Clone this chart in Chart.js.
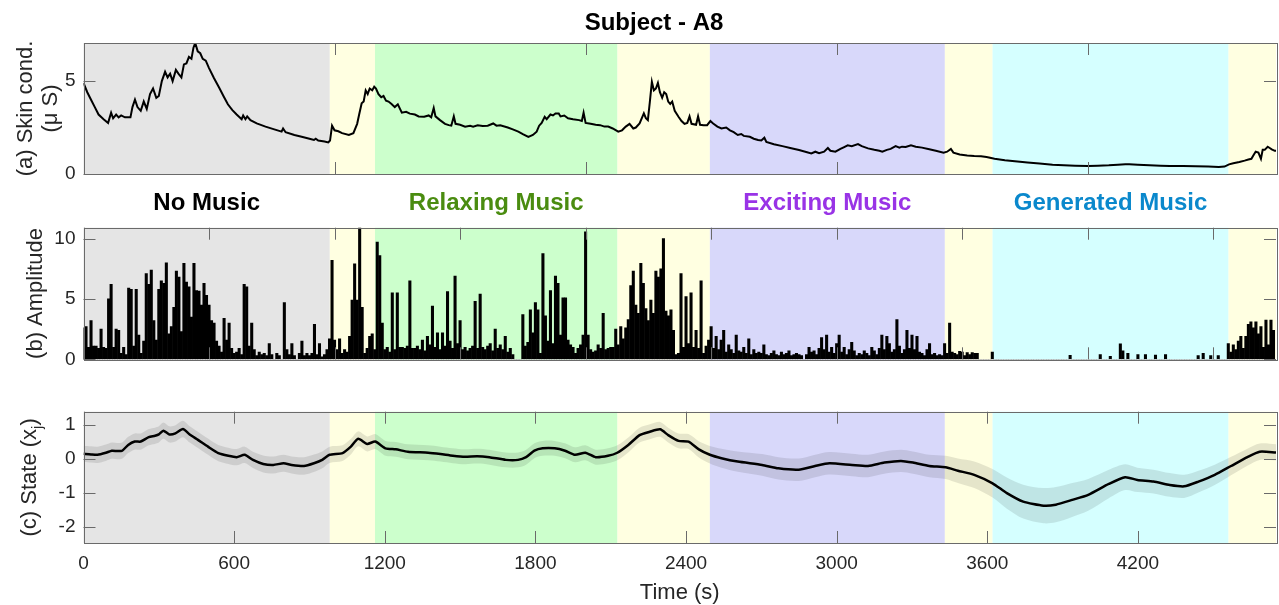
<!DOCTYPE html>
<html>
<head>
<meta charset="utf-8">
<title>Subject - A8</title>
<script src="https://cdn.jsdelivr.net/npm/chart.js@4.4.1/dist/chart.umd.min.js"></script>
<style>
  html, body { margin: 0; padding: 0; background: #fff; }
  #fig { position: relative; width: 1279px; height: 605px; overflow: hidden; }
  #fig canvas { position: absolute; left: 0; }
</style>
</head>
<body>
<div id="fig">
  <canvas id="skinChart" width="1279" height="180" style="top:0px"></canvas>
  <canvas id="ampChart" width="1279" height="200" style="top:180px"></canvas>
  <canvas id="stateChart" width="1279" height="225" style="top:380px"></canvas>
</div>
<script>
// ---- session phases (seconds) ----
const phaseEdges = [0, 981, 1161, 2127, 2495, 3431, 3621, 4561, 4750];
const phaseKind = ['none', 'rest', 'relax', 'rest', 'excite', 'rest', 'generated', 'rest'];
const phaseNames = ['No Music', 'Relaxing Music', 'Exciting Music', 'Generated Music'];
const phaseNameKind = ['none', 'relax', 'excite', 'generated'];

// ---- (a) skin conductance, microsiemens ----
const skinTimes = [
  0, 15, 30, 45, 60, 80, 98, 110, 118, 130, 140, 150, 165, 187, 195, 205, 215, 228, 240, 252,
  265, 277, 290, 300, 312, 325, 335, 345, 355, 368, 378, 390, 400, 410, 420, 430, 438, 445, 455, 465,
  475, 487, 500, 520, 540, 559, 575, 593, 610, 630, 636, 645, 652, 665, 690, 725, 760, 789, 795, 805,
  840, 869, 900, 918, 925, 935, 960, 975, 982, 990, 1000, 1015, 1030, 1057, 1075, 1090, 1098, 1108, 1116, 1124,
  1132, 1140, 1150, 1158, 1165, 1175, 1186, 1195, 1205, 1215, 1227, 1240, 1252, 1268, 1285, 1300, 1320, 1335, 1357, 1375,
  1385, 1395, 1402, 1420, 1440, 1455, 1465, 1475, 1482, 1500, 1520, 1540, 1552, 1570, 1590, 1610, 1632, 1645, 1660, 1690,
  1710, 1732, 1750, 1772, 1790, 1805, 1815, 1825, 1837, 1845, 1860, 1870, 1880, 1893, 1900, 1915, 1930, 1950, 1974, 1985,
  1992, 2000, 2020, 2040, 2058, 2075, 2090, 2108, 2130, 2145, 2160, 2175, 2190, 2200, 2215, 2232, 2240, 2248, 2256, 2264,
  2272, 2280, 2288, 2296, 2305, 2313, 2321, 2329, 2337, 2345, 2355, 2370, 2382, 2394, 2405, 2414, 2422, 2440, 2448, 2456,
  2470, 2484, 2497, 2508, 2525, 2541, 2560, 2575, 2590, 2606, 2620, 2630, 2654, 2670, 2687, 2700, 2712, 2720, 2750, 2784,
  2815, 2850, 2875, 2899, 2915, 2930, 2950, 2965, 2975, 2995, 3015, 3030, 3044, 3060, 3085, 3100, 3125, 3150, 3170, 3182,
  3200, 3215, 3235, 3250, 3260, 3275, 3296, 3315, 3340, 3369, 3395, 3426, 3440, 3455, 3465, 3490, 3520, 3548, 3575, 3597,
  3629, 3670, 3710, 3760, 3808, 3860, 3905, 3950, 4002, 4040, 4084, 4120, 4150, 4165, 4200, 4246, 4290, 4327, 4380, 4430,
  4480, 4522, 4545, 4563, 4580, 4604, 4625, 4640, 4652, 4662, 4669, 4680, 4690, 4697, 4705, 4717, 4725, 4733, 4745, 4750
];
const skinValues = [
  4.9, 4.4, 4.0, 3.6, 3.2, 2.95, 2.75, 3.3, 3.0, 3.2, 3.05, 3.15, 3.05, 3.05, 3.6, 4.0, 3.6, 3.4, 3.9, 3.5,
  4.3, 4.6, 4.1, 4.2, 5.0, 5.5, 5.2, 5.4, 5.0, 5.6, 5.4, 5.2, 5.9, 5.95, 6.3, 6.2, 6.8, 7.05, 6.6, 6.5,
  6.2, 6.1, 5.7, 5.15, 4.65, 4.16, 3.75, 3.44, 3.2, 2.95, 3.15, 2.95, 3.1, 2.9, 2.72, 2.55, 2.4, 2.28, 2.45, 2.25,
  2.1, 2.0, 1.9, 1.83, 1.9, 1.8, 1.75, 1.7, 1.8, 2.6, 2.35, 2.3, 2.2, 2.1, 2.2, 2.7, 3.2, 3.8, 3.9, 4.5,
  4.3, 4.6, 4.5, 4.7, 4.6, 4.3, 4.13, 4.2, 3.95, 3.9, 3.77, 3.6, 3.75, 3.3, 3.35, 3.25, 3.2, 3.1, 3.08, 3.15,
  3.05, 3.55, 3.1, 2.9, 2.7, 2.63, 2.6, 3.1, 2.7, 2.65, 2.55, 2.6, 2.55, 2.62, 2.58, 2.6, 2.72, 2.6, 2.62, 2.5,
  2.4, 2.28, 2.15, 2.0, 2.1, 2.28, 2.6, 2.75, 3.08, 2.95, 3.2, 3.15, 3.26, 3.26, 3.1, 3.15, 3.0, 2.95, 2.9, 2.85,
  3.3, 2.75, 2.7, 2.65, 2.63, 2.55, 2.55, 2.45, 2.28, 2.35, 2.55, 2.7, 2.45, 2.5, 2.72, 3.26, 3.0, 2.9, 3.9, 4.96,
  4.5, 4.6, 4.9, 4.4, 4.1, 4.4, 4.3, 3.9, 3.77, 3.9, 3.4, 3.08, 2.85, 2.7, 2.75, 3.1, 2.7, 2.65, 3.1, 2.65,
  2.63, 2.63, 2.85, 2.72, 2.55, 2.45, 2.5, 2.35, 2.25, 2.1, 2.15, 2.05, 2.0, 1.9, 1.83, 1.8, 1.95, 1.72, 1.6, 1.5,
  1.4, 1.29, 1.2, 1.11, 1.2, 1.12, 1.2, 1.4, 1.25, 1.2, 1.35, 1.45, 1.54, 1.5, 1.61, 1.5, 1.38, 1.3, 1.25, 1.2,
  1.3, 1.35, 1.5, 1.42, 1.47, 1.45, 1.54, 1.47, 1.42, 1.33, 1.25, 1.15, 1.2, 1.35, 1.15, 1.05, 1.0, 0.97, 0.95, 0.91,
  0.82, 0.74, 0.68, 0.62, 0.56, 0.5, 0.47, 0.45, 0.43, 0.45, 0.47, 0.5, 0.53, 0.52, 0.5, 0.47, 0.45, 0.43, 0.43, 0.42,
  0.4, 0.38, 0.4, 0.52, 0.58, 0.65, 0.72, 0.78, 0.82, 1.05, 1.2, 1.15, 0.82, 1.3, 1.3, 1.47, 1.4, 1.33, 1.25, 1.25
];

// ---- (b) response amplitude, one value per 10 s bin ----
const ampStep = 10;
const ampValues = [
  2.6, 2.7, 1.0, 3.2, 1.1, 1.1, 0.9, 2.5, 1.0, 0.9,
  5.0, 6.2, 1.0, 2.5, 2.4, 0.5, 1.0, 0.4, 5.9, 5.8,
  1.1, 5.8, 2.0, 0.5, 1.5, 7.1, 6.2, 7.4, 3.2, 1.6,
  5.8, 6.5, 6.3, 8.0, 2.1, 2.7, 4.3, 7.3, 6.8, 2.3,
  7.95, 6.4, 6.0, 3.5, 7.95, 5.7, 5.65, 4.5, 6.3, 5.3,
  4.5, 3.2, 3.0, 1.5, 1.1, 0.6, 3.4, 1.6, 3.0, 0.9,
  0.5, 0.6, 0.9, 0.4, 6.2, 6.0, 1.1, 3.0, 0.8, 0.3,
  0.6, 0.4, 0.5, 0.3, 1.3, 0.4, 0, 0.5, 0.3, 0,
  4.7, 0.8, 0.4, 1.3, 0.3, 0, 0.5, 1.5, 0.3, 0.5,
  0.3, 0.5, 2.9, 0.4, 1.3, 0.2, 0.4, 0.8, 1.7, 8.2,
  1.6, 0.8, 1.7, 0.5, 0.8, 0.6, 1.9, 4.9, 7.9, 4.9,
  10.95, 4.3, 0.5, 0.9, 1.9, 2.1, 0.8, 9.7, 8.6, 3.0,
  0.8, 1.0, 0.6, 5.5, 0.8, 5.5, 1.0, 1.0, 0.9, 1.1,
  6.5, 0.9, 0.9, 1.1, 0.8, 1.6, 0.7, 1.9, 1.2, 4.4,
  1.0, 2.2, 0.8, 2.2, 1.1, 5.6, 1.5, 0.9, 6.9, 1.3,
  3.2, 0.8, 1.0, 0.7, 0.9, 1.1, 4.8, 0.9, 5.4, 1.0,
  0.8, 1.1, 1.3, 0.7, 2.5, 0.9, 1.2, 0.8, 1.9, 0.6,
  0.9, 0.4, 0, 0, 0, 3.7, 1.1, 1.4, 4.1, 2.2,
  4.7, 4.1, 0.5, 8.75, 3.6, 1.5, 5.7, 1.3, 6.9, 6.3,
  2.0, 5.1, 5.1, 1.6, 1.2, 1.0, 0.5, 0.9, 1.2, 2.0,
  10.55, 2.0, 0.8, 0.6, 0.7, 1.2, 0.9, 3.8, 0.8, 0.9,
  1.0, 1.0, 2.5, 1.2, 2.7, 1.7, 2.6, 3.3, 6.1, 7.3,
  4.5, 3.8, 7.95, 6.3, 4.2, 3.2, 4.9, 3.8, 7.3, 6.8,
  7.5, 10.0, 4.0, 3.6, 4.1, 2.4, 0.4, 0.5, 7.1, 1.0,
  5.2, 1.3, 5.5, 1.0, 2.4, 0.9, 6.5, 0.5, 1.1, 1.6,
  2.7, 0.9, 1.9, 0.8, 1.6, 2.4, 0.6, 1.2, 0.8, 0.5,
  2.0, 0.7, 0.6, 1.0, 0.5, 1.7, 0.4, 0.8, 0.5, 0.6,
  0.5, 1.2, 0.4, 0.3, 0.5, 0.7, 0.4, 0.3, 0.6, 0.4,
  0.5, 0.7, 0.3, 0.4, 0.5, 0.4, 0.3, 0, 0.4, 1.0,
  0.6, 0.7, 0.4, 0.9, 1.8, 0.8, 2.0, 0.6, 1.0, 0.5,
  1.3, 2.0, 0.6, 1.0, 0.4, 0.8, 1.4, 0.7, 0.3, 0.5,
  0.4, 0.7, 0.5, 0.3, 1.0, 0.7, 0.4, 0.9, 2.0, 0.8,
  1.9, 1.3, 0.6, 0.8, 3.3, 1.1, 0.5, 0.8, 2.4, 0.9,
  2.0, 0.8, 1.9, 0.6, 0.5, 0.3, 0.8, 1.3, 0.4, 0.5,
  0.3, 0.4, 0.3, 1.3, 0.5, 3.0, 0.6, 0.5, 0.4, 0.65,
  0.6, 0.3, 0.55, 0.4, 0.55, 0.5, 0.5, 0, 0, 0,
  0, 0, 0.6, 0, 0, 0, 0, 0, 0, 0,
  0, 0, 0, 0, 0, 0, 0, 0, 0, 0,
  0, 0, 0, 0, 0, 0, 0, 0, 0, 0,
  0, 0, 0, 0.33, 0, 0, 0, 0, 0, 0,
  0, 0, 0, 0, 0, 0.4, 0, 0, 0, 0.25,
  0, 0, 0, 1.28, 0.7, 0, 0.5, 0, 0, 0,
  0.4, 0, 0, 0.4, 0, 0, 0, 0.35, 0, 0,
  0, 0.4, 0, 0, 0, 0, 0, 0, 0, 0,
  0, 0, 0, 0, 0.3, 0, 0.5, 0, 0, 0.3,
  0, 0, 0.3, 0, 0, 0, 1.3, 0.6, 1.2, 0.8,
  1.5, 1.9, 0.9, 1.9, 2.9, 3.1, 2.6, 3.1, 2.1, 2.7,
  1.0, 3.25, 1.2, 3.25, 2.4
];

// ---- (c) estimated state x_j with its uncertainty half-width ----
const stateTimes = [
  0, 30, 56, 89, 113, 135, 154, 178, 204, 228,
  260, 285, 300, 318, 342, 366, 396, 423, 456, 496,
  537, 577, 610, 642, 675, 716, 756, 797, 829, 878,
  918, 951, 980, 1032, 1065, 1094, 1130, 1162, 1203, 1244,
  1292, 1373, 1422, 1471, 1520, 1568, 1617, 1682, 1731, 1763,
  1796, 1829, 1877, 1918, 1958, 1999, 2040, 2089, 2126, 2170,
  2215, 2256, 2297, 2329, 2370, 2410, 2451, 2495, 2541, 2606,
  2703, 2768, 2849, 2914, 2971, 3061, 3125, 3190, 3256, 3304,
  3369, 3434, 3483, 3548, 3621, 3678, 3743, 3824, 3873, 3938,
  4002, 4084, 4149, 4198, 4262, 4327, 4384, 4441, 4506, 4571,
  4636, 4685, 4750
];
const stateValues = [
  0.15, 0.13, 0.12, 0.18, 0.24, 0.23, 0.24, 0.41, 0.51, 0.51,
  0.64, 0.68, 0.72, 0.83, 0.72, 0.75, 0.88, 0.72, 0.56, 0.36,
  0.17, 0.09, 0.05, 0.12, -0.03, -0.15, -0.18, -0.13, -0.18, -0.21,
  -0.13, -0.03, 0.12, 0.17, 0.36, 0.59, 0.44, 0.51, 0.31, 0.28,
  0.21, 0.18, 0.14, 0.09, 0.06, 0.08, 0.05, -0.03, -0.03, 0.05,
  0.24, 0.31, 0.31, 0.24, 0.12, 0.18, 0.05, 0.09, 0.18, 0.41,
  0.70, 0.80, 0.87, 0.70, 0.53, 0.51, 0.28, 0.12, 0.02, -0.08,
  -0.18, -0.28, -0.32, -0.21, -0.13, -0.18, -0.21, -0.11, -0.06, -0.11,
  -0.21, -0.25, -0.35, -0.47, -0.72, -1.01, -1.26, -1.38, -1.35, -1.21,
  -1.06, -0.74, -0.54, -0.62, -0.67, -0.77, -0.81, -0.67, -0.47, -0.21,
  0.05, 0.21, 0.19
];
const stateSpread = [
  0.24, 0.24, 0.24, 0.24, 0.24, 0.24, 0.24, 0.24, 0.24, 0.24,
  0.24, 0.24, 0.24, 0.24, 0.24, 0.24, 0.24, 0.24, 0.24, 0.24,
  0.24, 0.24, 0.24, 0.24, 0.24, 0.25, 0.25, 0.25, 0.25, 0.26,
  0.26, 0.25, 0.24, 0.23, 0.23, 0.22, 0.22, 0.22, 0.22, 0.22,
  0.22, 0.22, 0.22, 0.22, 0.22, 0.22, 0.22, 0.22, 0.22, 0.22,
  0.22, 0.22, 0.22, 0.22, 0.22, 0.22, 0.22, 0.22, 0.22, 0.22,
  0.22, 0.22, 0.22, 0.22, 0.22, 0.22, 0.24, 0.26, 0.28, 0.3,
  0.32, 0.33, 0.33, 0.33, 0.33, 0.33, 0.33, 0.33, 0.33, 0.33,
  0.33, 0.34, 0.36, 0.39, 0.42, 0.46, 0.5, 0.52, 0.52, 0.5,
  0.47, 0.42, 0.38, 0.36, 0.35, 0.35, 0.34, 0.32, 0.3, 0.27,
  0.25, 0.24, 0.24
];

// ---- axes ----
const timeMax = 4750;
const skinTicksX = [0, 1000, 2000, 3000, 4000];
const ampTicksX = [0, 500, 1000, 1500, 2000, 2500, 3000, 3500, 4000, 4500];
const stateTicksX = [0, 600, 1200, 1800, 2400, 3000, 3600, 4200];
const skinTicksY = [0, 5];
const ampTicksY = [0, 5, 10];
const stateTicksY = [-2, -1, 0, 1];

// ---- styling ----
const FONT = '"Liberation Sans", Arial, Helvetica, sans-serif';
const phaseFill = {
  none: '#e5e5e5', rest: '#ffffe1', relax: '#ccffcc', excite: '#d8d8fa', generated: '#d5ffff'
};
const phaseInk = { none: '#000000', relax: '#4a8c10', excite: '#9933e6', generated: '#0a88cc' };
const textInk = '#262626';
const frameInk = '#6a6a6a';
const TICK_LEN = 12;

function pairs(xs, ys) {
  return xs.map((x, i) => ({ x, y: ys[i] }));
}

function rotatedText(ctx, text, cx, cy) {
  ctx.save();
  ctx.translate(cx, cy);
  ctx.rotate(-Math.PI / 2);
  ctx.textAlign = 'center';
  ctx.textBaseline = 'middle';
  ctx.fillText(text, 0, 0);
  ctx.restore();
}

// MATLAB-style box: shaded phases behind the data, inward ticks and labels on top
const panelDecor = {
  id: 'panelDecor',
  beforeDatasetsDraw(chart) {
    const { ctx, chartArea: a, scales: { x } } = chart;
    ctx.save();
    for (let i = 0; i < phaseKind.length; i++) {
      const x0 = x.getPixelForValue(phaseEdges[i]);
      const x1 = x.getPixelForValue(phaseEdges[i + 1]);
      ctx.fillStyle = phaseFill[phaseKind[i]];
      ctx.fillRect(x0, a.top, x1 - x0, a.bottom - a.top);
    }
    ctx.restore();
  },
  afterDraw(chart, args, opts) {
    const { ctx, chartArea: a, scales: { x, y } } = chart;
    const snap = v => Math.round(v) + 0.5;
    ctx.save();
    ctx.strokeStyle = frameInk;
    ctx.lineWidth = 1;
    ctx.beginPath();
    opts.xTicks.forEach(t => {
      const px = snap(x.getPixelForValue(t));
      ctx.moveTo(px, a.bottom); ctx.lineTo(px, a.bottom - TICK_LEN);
      ctx.moveTo(px, a.top); ctx.lineTo(px, a.top + TICK_LEN);
    });
    opts.yTicks.forEach(t => {
      const py = snap(y.getPixelForValue(t));
      ctx.moveTo(a.left, py); ctx.lineTo(a.left + TICK_LEN, py);
      ctx.moveTo(a.right, py); ctx.lineTo(a.right - TICK_LEN, py);
    });
    ctx.stroke();
    ctx.strokeRect(snap(a.left), snap(a.top), Math.round(a.right - a.left), Math.round(a.bottom - a.top));

    ctx.fillStyle = textInk;
    ctx.font = `19px ${FONT}`;
    ctx.textAlign = 'right';
    ctx.textBaseline = 'middle';
    opts.yTicks.forEach(t => ctx.fillText(String(t), a.left - 8, y.getPixelForValue(t)));
    if (opts.xLabels) {
      ctx.textAlign = 'center';
      opts.xTicks.forEach(t => ctx.fillText(String(t), x.getPixelForValue(t), a.bottom + 21));
    }
    ctx.font = `22px ${FONT}`;
    if (opts.draw) opts.draw(chart, ctx);
    ctx.restore();
  }
};

function baseOptions(padding, yMin, yMax, decor) {
  return {
    responsive: false,
    animation: false,
    devicePixelRatio: 1,
    layout: { padding },
    scales: {
      x: { type: 'linear', display: false, min: 0, max: timeMax, offset: false },
      y: { type: 'linear', display: false, min: yMin, max: yMax }
    },
    plugins: { legend: { display: false }, tooltip: { enabled: false }, panelDecor: decor }
  };
}

// (a) skin conductance
new Chart(document.getElementById('skinChart'), {
  type: 'line',
  data: {
    datasets: [{
      data: pairs(skinTimes, skinValues),
      borderColor: '#000', borderWidth: 2, pointRadius: 0, tension: 0, fill: false
    }]
  },
  options: baseOptions({ left: 83.5, right: 3, top: 43, bottom: 6 }, 0, 7.05, {
    xTicks: skinTicksX, yTicks: skinTicksY, xLabels: false,
    draw(chart, ctx) {
      const a = chart.chartArea;
      const cy = (a.top + a.bottom) / 2;
      rotatedText(ctx, '(a) Skin cond.', 26, cy);
      rotatedText(ctx, '(\u03BC S)', 51, cy);
      ctx.font = `bold 24px ${FONT}`;
      ctx.textAlign = 'center';
      ctx.textBaseline = 'middle';
      ctx.fillStyle = '#000';
      ctx.fillText('Subject - A8', 654, 23);
    }
  }),
  plugins: [panelDecor]
});

// (b) amplitude of the detected responses
new Chart(document.getElementById('ampChart'), {
  type: 'bar',
  data: {
    datasets: [{
      data: ampValues.map((v, i) => ({ x: i * ampStep, y: v })),
      backgroundColor: '#000', borderWidth: 0, barThickness: 2.4
    }]
  },
  options: baseOptions({ left: 83.5, right: 3, top: 47.7, bottom: 20.7 }, 0, 10.9, {
    xTicks: ampTicksX, yTicks: ampTicksY, xLabels: false,
    draw(chart, ctx) {
      const a = chart.chartArea;
      const x = chart.scales.x;
      rotatedText(ctx, '(b) Amplitude', 36, (a.top + a.bottom) / 2);
      ctx.font = `bold 24px ${FONT}`;
      ctx.textAlign = 'center';
      ctx.textBaseline = 'middle';
      phaseNames.forEach((name, k) => {
        const i = phaseKind.indexOf(phaseNameKind[k]);
        const mid = (phaseEdges[i] + phaseEdges[i + 1]) / 2;
        ctx.fillStyle = phaseInk[phaseNameKind[k]];
        ctx.fillText(name, x.getPixelForValue(mid), 23.5);
      });
    }
  }),
  plugins: [panelDecor]
});

// (c) state estimate with confidence band
new Chart(document.getElementById('stateChart'), {
  type: 'line',
  data: {
    datasets: [
      {
        data: pairs(stateTimes, stateValues.map((v, i) => v + stateSpread[i])),
        borderWidth: 0, pointRadius: 0, tension: 0.3, fill: '+1',
        backgroundColor: 'rgba(0,0,0,0.1)'
      },
      {
        data: pairs(stateTimes, stateValues.map((v, i) => v - stateSpread[i])),
        borderWidth: 0, pointRadius: 0, tension: 0.3, fill: false
      },
      {
        data: pairs(stateTimes, stateValues),
        borderColor: '#000', borderWidth: 2.5, pointRadius: 0, tension: 0.2, fill: false
      }
    ]
  },
  options: baseOptions({ left: 83.5, right: 3, top: 31.7, bottom: 62 }, -2.48, 1.39, {
    xTicks: stateTicksX, yTicks: stateTicksY, xLabels: true,
    draw(chart, ctx) {
      const a = chart.chartArea;
      const cy = (a.top + a.bottom) / 2;
      // "(c) State (x_j)" with a subscript j
      const main = '(c) State (x';
      const mainFont = `22px ${FONT}`;
      const subFont = `15px ${FONT}`;
      ctx.font = mainFont;
      const wMain = ctx.measureText(main).width;
      const wClose = ctx.measureText(')').width;
      ctx.font = subFont;
      const wSub = ctx.measureText('j').width;
      const total = wMain + wSub + wClose;
      ctx.save();
      ctx.translate(30, cy);
      ctx.rotate(-Math.PI / 2);
      ctx.textBaseline = 'middle';
      ctx.textAlign = 'left';
      ctx.font = mainFont;
      ctx.fillText(main, -total / 2, 0);
      ctx.font = subFont;
      ctx.fillText('j', -total / 2 + wMain, 8);
      ctx.font = mainFont;
      ctx.fillText(')', -total / 2 + wMain + wSub, 0);
      ctx.restore();

      ctx.font = mainFont;
      ctx.textAlign = 'center';
      ctx.textBaseline = 'middle';
      ctx.fillText('Time (s)', (a.left + a.right) / 2, 213);
    }
  }),
  plugins: [panelDecor]
});
</script>
</body>
</html>
